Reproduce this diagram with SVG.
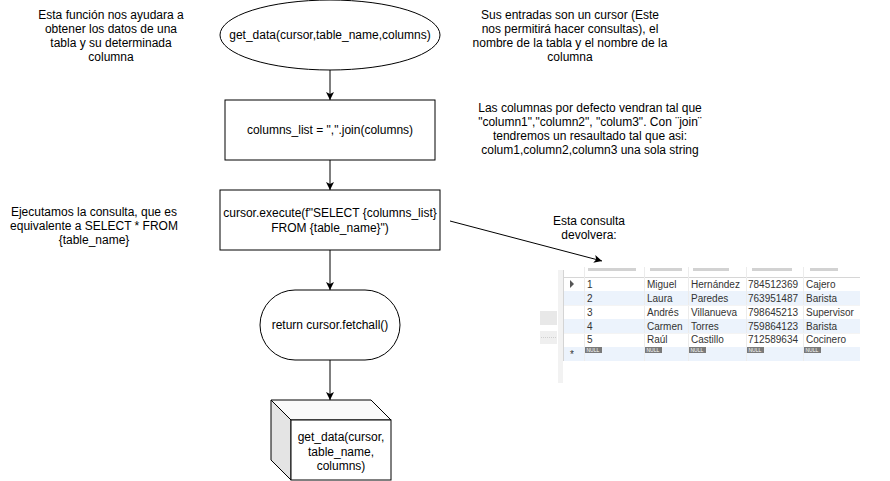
<svg xmlns="http://www.w3.org/2000/svg" width="890" height="481" viewBox="0 0 890 481">
<defs>
<style>
text{font-family:"Liberation Sans",Arial,sans-serif;font-size:12px;fill:#000;}
.c{text-anchor:middle;}
.shape{fill:#fff;stroke:#000;stroke-width:1;}
.edge{fill:none;stroke:#000;stroke-width:1;}
.t{font-size:10px;fill:#333;}
.nul{font-size:5px;fill:#fff;}
.grid{stroke:#ececec;stroke-width:1;}
</style>
<marker id="arr" markerWidth="10" markerHeight="10" refX="8" refY="4" orient="auto" markerUnits="userSpaceOnUse">
<path d="M0,0 L8,4 L0,8 L2,4 Z" fill="#000"/>
</marker>
</defs>
<rect width="890" height="481" fill="#fff"/>

<g id="connectors">
<line class="edge" x1="330" y1="70" x2="330" y2="100" marker-end="url(#arr)"/>
<line class="edge" x1="330" y1="160" x2="330" y2="190" marker-end="url(#arr)"/>
<line class="edge" x1="330" y1="250" x2="330" y2="290" marker-end="url(#arr)"/>
<line class="edge" x1="330" y1="360" x2="330" y2="400" marker-end="url(#arr)"/>
<line class="edge" x1="450" y1="221" x2="602" y2="261" marker-end="url(#arr)"/>
</g>

<g id="start">
<ellipse class="shape" cx="330" cy="35" rx="110" ry="35"/>
<text class="c" x="330" y="39">get_data(cursor,table_name,columns)</text>
</g>

<g id="join">
<rect class="shape" x="225" y="100" width="210" height="60"/>
<text class="c" x="330" y="134">columns_list = ",".join(columns)</text>
</g>

<g id="execute">
<rect class="shape" x="220" y="190" width="220" height="60"/>
<text class="c" x="330" y="217">cursor.execute(f"SELECT {columns_list}</text>
<text class="c" x="330" y="232">FROM {table_name}")</text>
</g>

<g id="fetch">
<rect class="shape" x="260" y="290" width="140" height="70" rx="35" ry="35"/>
<text class="c" x="330" y="329">return cursor.fetchall()</text>
</g>

<g id="result">
<path d="M271,400 L291,420 L391,420 L371,400 Z" fill="#fafafa" stroke="#000"/>
<path d="M271,400 L291,420 L291,480 L271,460 Z" fill="#e4e4e4" stroke="#000"/>
<rect class="shape" x="291" y="420" width="100" height="60"/>
<text class="c" x="341" y="441">get_data(cursor,</text>
<text class="c" x="341" y="456">table_name,</text>
<text class="c" x="341" y="470">columns)</text>
</g>

<g id="note-desc">
<text class="c" x="111" y="19">Esta función nos ayudara a</text>
<text class="c" x="111" y="33">obtener los datos de una</text>
<text class="c" x="111" y="47">tabla y su determinada</text>
<text class="c" x="111" y="61">columna</text>
</g>

<g id="note-inputs">
<text class="c" x="570" y="19">Sus entradas son un cursor (Este</text>
<text class="c" x="570" y="33">nos permitirá hacer consultas), el</text>
<text class="c" x="570" y="47">nombre de la tabla y el nombre de la</text>
<text class="c" x="570" y="61">columna</text>
</g>

<g id="note-join">
<text class="c" x="590" y="112">Las columnas por defecto vendran tal que</text>
<text class="c" x="590" y="126">"column1","column2", "colum3". Con ¨join¨</text>
<text class="c" x="590" y="140">tendremos un resaultado tal que asi:</text>
<text class="c" x="590" y="154">colum1,column2,column3 una sola string</text>
</g>

<g id="note-query">
<text class="c" x="94" y="216">Ejecutamos la consulta, que es</text>
<text class="c" x="94" y="230">equivalente a SELECT * FROM</text>
<text class="c" x="94" y="244">{table_name}</text>
</g>

<g id="note-return">
<text class="c" x="589" y="225">Esta consulta</text>
<text class="c" x="589" y="239">devolvera:</text>
</g>

<g id="table">
<rect x="540" y="311" width="17" height="14" fill="#e8e8e8"/>
<rect x="540" y="331" width="17" height="13" fill="#efefef"/>
<line x1="541" y1="337.5" x2="556" y2="337.5" stroke="#cfcfcf" stroke-dasharray="1,1"/>
<rect x="558" y="270" width="5" height="113" fill="#f2f2f2"/>
<line x1="563.5" y1="270" x2="563.5" y2="361" stroke="#d4d4d4"/>
<rect x="564" y="291" width="296" height="14" fill="#ecf3fc"/>
<rect x="564" y="319" width="296" height="14" fill="#ecf3fc"/>
<rect x="564" y="347" width="296" height="14" fill="#ecf3fc"/>
<g fill="#d2d2d2">
<rect x="588" y="268" width="48" height="3"/>
<rect x="650" y="268" width="32" height="3"/>
<rect x="693" y="268" width="36" height="3"/>
<rect x="752" y="268" width="40" height="3"/>
<rect x="810" y="268" width="28" height="3"/>
</g>
<line x1="564" y1="277.5" x2="860" y2="277.5" stroke="#d6d6d6"/>
<g class="grid">
<line x1="584.5" y1="267" x2="584.5" y2="361"/>
<line x1="644.5" y1="267" x2="644.5" y2="361"/>
<line x1="688.5" y1="267" x2="688.5" y2="361"/>
<line x1="746.5" y1="267" x2="746.5" y2="361"/>
<line x1="803.5" y1="267" x2="803.5" y2="361"/>
<line x1="564" y1="305.5" x2="860" y2="305.5" stroke="#f4f4f4"/>
<line x1="564" y1="333.5" x2="860" y2="333.5" stroke="#f4f4f4"/>
</g>
<path d="M570,280 L574,284 L570,288 Z" fill="#555"/>
<text class="t" x="572" y="358" text-anchor="middle">*</text>
<text class="t" x="587" y="288">1</text>
<text class="t" x="647" y="288">Miguel</text>
<text class="t" x="691" y="288">Hernández</text>
<text class="t" x="748" y="288">784512369</text>
<text class="t" x="806" y="288">Cajero</text>
<text class="t" x="587" y="302">2</text>
<text class="t" x="647" y="302">Laura</text>
<text class="t" x="691" y="302">Paredes</text>
<text class="t" x="748" y="302">763951487</text>
<text class="t" x="806" y="302">Barista</text>
<text class="t" x="587" y="316">3</text>
<text class="t" x="647" y="316">Andrés</text>
<text class="t" x="691" y="316">Villanueva</text>
<text class="t" x="748" y="316">798645213</text>
<text class="t" x="806" y="316">Supervisor</text>
<text class="t" x="587" y="330">4</text>
<text class="t" x="647" y="330">Carmen</text>
<text class="t" x="691" y="330">Torres</text>
<text class="t" x="748" y="330">759864123</text>
<text class="t" x="806" y="330">Barista</text>
<text class="t" x="587" y="343">5</text>
<text class="t" x="647" y="343">Raúl</text>
<text class="t" x="691" y="343">Castillo</text>
<text class="t" x="748" y="343">712589634</text>
<text class="t" x="806" y="343">Cocinero</text>
<g fill="#7a7a7a">
<rect x="585" y="347" width="17" height="6"/>
<rect x="645" y="347" width="17" height="6"/>
<rect x="689" y="347" width="17" height="6"/>
<rect x="747" y="347" width="17" height="6"/>
<rect x="804" y="347" width="17" height="6"/>
</g>
<text class="nul" x="586.5" y="352">NULL</text>
<text class="nul" x="646.5" y="352">NULL</text>
<text class="nul" x="690.5" y="352">NULL</text>
<text class="nul" x="748.5" y="352">NULL</text>
<text class="nul" x="805.5" y="352">NULL</text>
</g>
</svg>
